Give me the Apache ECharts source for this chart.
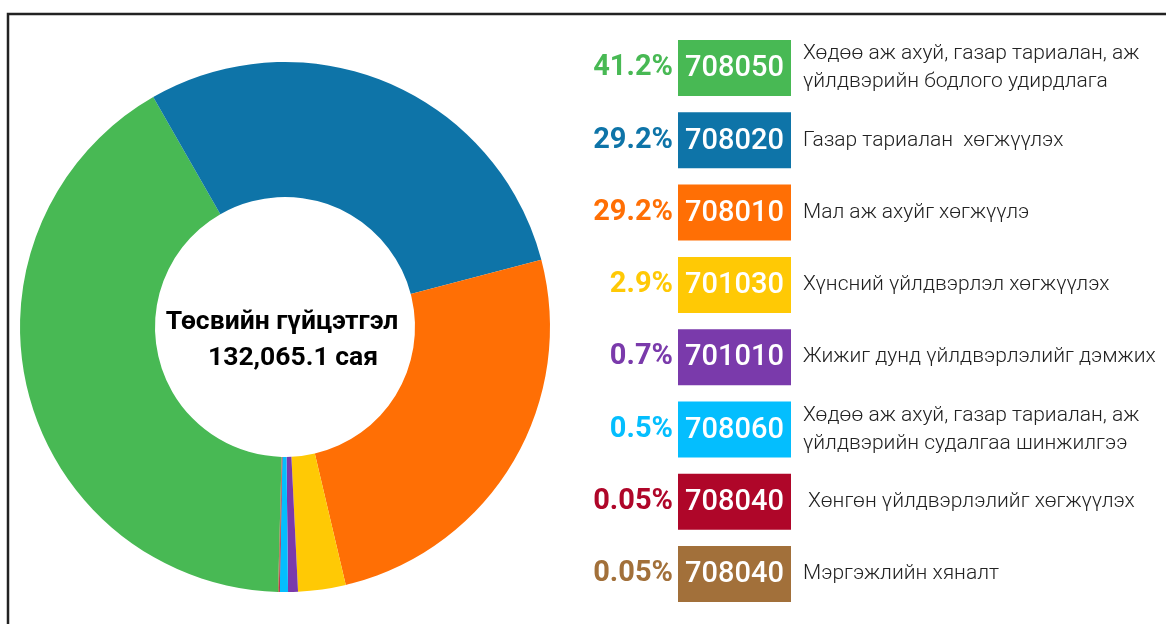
<!DOCTYPE html>
<html>
<head>
<meta charset="utf-8">
<script src="https://cdn.jsdelivr.net/npm/echarts@6/dist/echarts.min.js"></script>
<style>
  html, body { margin: 0; padding: 0; background: #fff; }
  #chart { width: 1166px; height: 624px; }
</style>
</head>
<body>
<div id="chart"></div>
<script>
// slice sizes as drawn in the donut (percent of circle)
const sliceValues = [41.3, 29.2, 25.4, 2.9, 0.6, 0.5, 0.05, 0.05];
// legend texts
const pctLabels = ["41.2%", "29.2%", "29.2%", "2.9%", "0.7%", "0.5%", "0.05%", "0.05%"];
const codes = ["708050", "708020", "708010", "701030", "701010", "708060", "708040", "708040"];
const names = [
  "Хөдөө аж ахуй, газар тариалан, аж\nүйлдвэрийн бодлого удирдлага",
  "Газар тариалан  хөгжүүлэх",
  "Мал аж ахуйг хөгжүүлэ",
  "Хүнсний үйлдвэрлэл хөгжүүлэх",
  "Жижиг дунд үйлдвэрлэлийг дэмжих",
  "Хөдөө аж ахуй, газар тариалан, аж\nүйлдвэрийн судалгаа шинжилгээ",
  " Хөнгөн үйлдвэрлэлийг хөгжүүлэх",
  "Мэргэжлийн хяналт"
];
const colors = ["#48b954", "#0e74a8", "#ff6f05", "#ffc905", "#7a3aab", "#04befe", "#af0629", "#a2703a"];
const centerTitle = "Төсвийн гүйцэтгэл";
const centerValue = "132,065.1 сая";

const chart = echarts.init(document.getElementById("chart"), null, { renderer: "canvas" });

let graphic = [
  {
    type: "rect",
    silent: true,
    shape: { x: 8, y: 14, width: 1200, height: 700 },
    style: { fill: "none", stroke: "#222", lineWidth: 2.5 },
  },
  {
    type: "text",
    x: 282, y: 322,
    style: {
      text: centerTitle, fill: "#000",
      font: "bold 26.5px Roboto", align: "center", verticalAlign: "middle",
    },
  },
  {
    type: "text",
    x: 293, y: 358,
    style: {
      text: centerValue, fill: "#000",
      font: "bold 26.5px Roboto", align: "center", verticalAlign: "middle",
    },
  },
];

codes.forEach((code, i) => {
  let cy = 68 + i * 72.3;
  graphic.push(
    {
      type: "text",
      x: 673, y: cy,
      style: {
        text: pctLabels[i], fill: colors[i],
        font: "bold 29px Roboto", align: "right", verticalAlign: "middle",
      },
    },
    {
      type: "rect",
      shape: { x: 678, y: cy - 28, width: 113, height: 56 },
      style: { fill: colors[i] },
    },
    {
      type: "text",
      x: 734.5, y: cy + 1,
      style: {
        text: code, fill: "#fff",
        font: "500 29px Roboto", align: "center", verticalAlign: "middle",
      },
    },
    {
      type: "text",
      x: 803, y: cy,
      style: {
        text: names[i], fill: "#222",
        font: "300 21px Roboto", lineHeight: 28,
        align: "left", verticalAlign: "middle",
      },
    }
  );
});

let option = {
  animation: false,
  backgroundColor: "#fff",
  color: colors,
  series: [
    {
      type: "pie",
      center: [285, 327],
      radius: [130, 265],
      startAngle: 268.5,
      clockwise: true,
      silent: true,
      label: { show: false },
      labelLine: { show: false },
      itemStyle: { borderWidth: 0 },
      data: sliceValues.map((v, i) => ({ value: v, name: codes[i] + " " + i })),
    },
  ],
  graphic: graphic,
};
chart.setOption(option);
</script>
</body>
</html>
